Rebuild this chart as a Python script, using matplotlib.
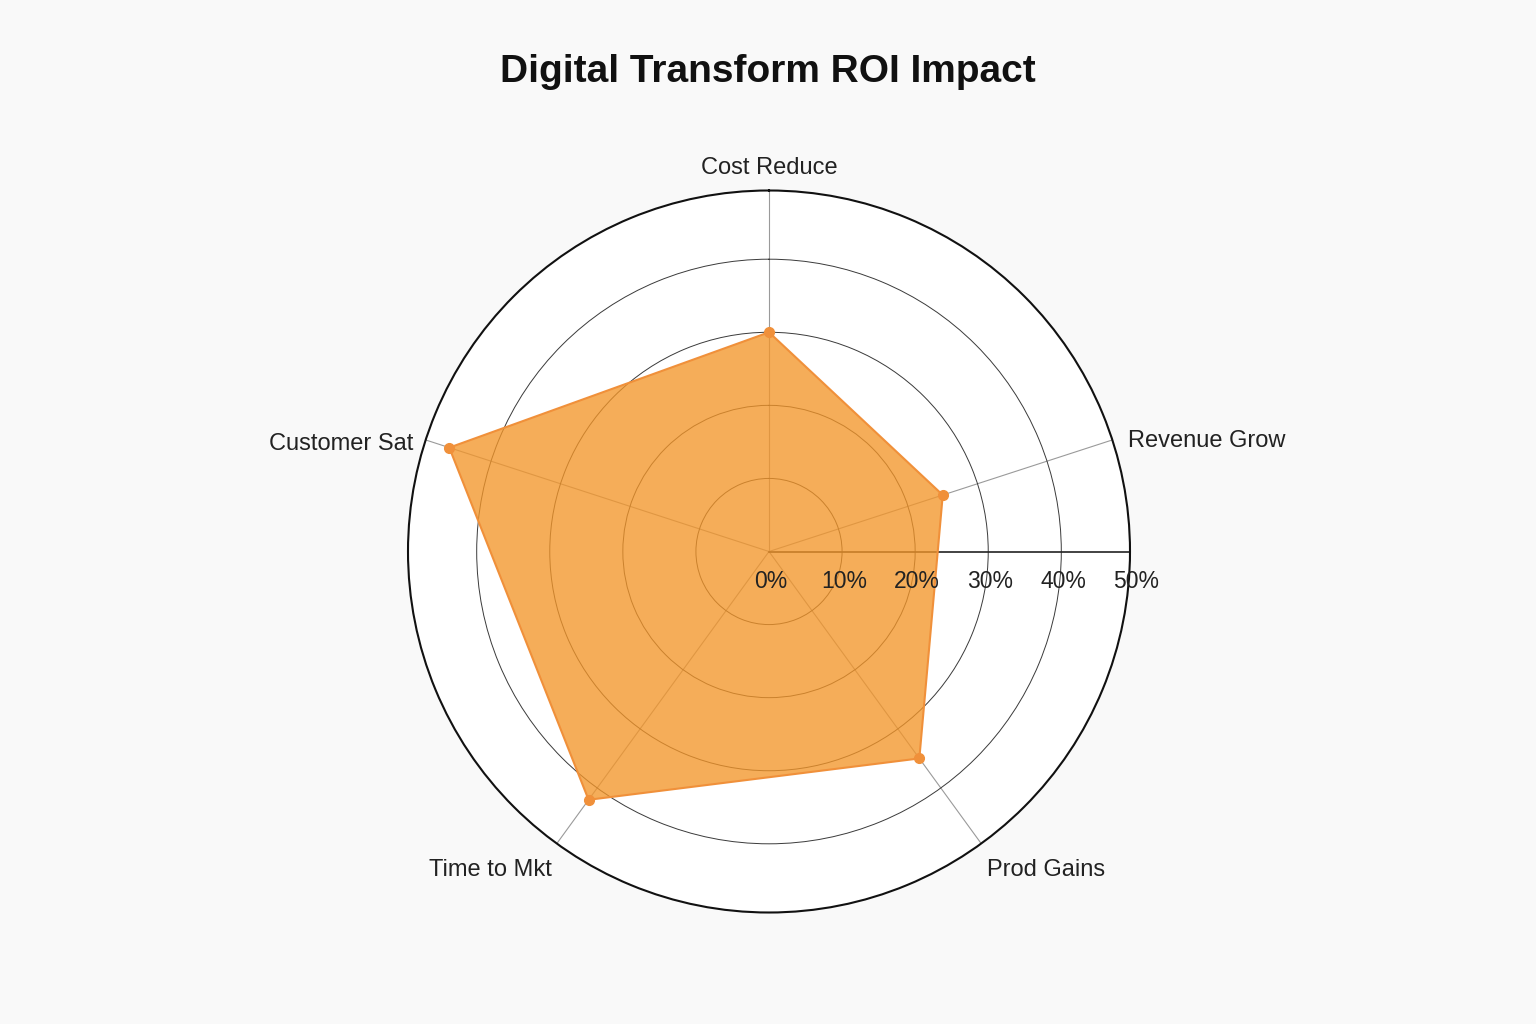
import numpy as np
import matplotlib
matplotlib.use("Agg")
import matplotlib.pyplot as plt

# data
categories = ["Cost Reduce", "Revenue Grow", "Prod Gains", "Time to Mkt", "Customer Sat"]
values = [30, 25, 35, 42, 46]
r_ticks = [0, 10, 20, 30, 40, 50]
r_tick_labels = ["0%", "10%", "20%", "30%", "40%", "50%"]

C_BG = "#f9f9f9"
C_LINE = "#F0903A"
C_FILL = "#F3962A"

plt.rcParams["font.family"] = ["Liberation Sans", "DejaVu Sans"]

fig = plt.figure(figsize=(15.36, 10.24), dpi=100, facecolor=C_BG)
cx, cy = 769 / 1536, 1 - 551.5 / 1024
w, h = 722 / 1536, 722 / 1024
ax = fig.add_axes([cx - w / 2, cy - h / 2, w, h], polar=True)
ax.set_facecolor("white")
ax.set_theta_offset(np.pi / 2)
ax.set_theta_direction(-1)
ax.set_ylim(0, 49.4)

n = len(categories)
angles = np.linspace(0, 2 * np.pi, n, endpoint=False)

# grid
ax.set_xticks(angles)
ax.set_xticklabels([])
ax.set_yticks(r_ticks[1:-1])
ax.set_yticklabels([])
ax.xaxis.grid(True, color="#9a9a9a", lw=0.8)
ax.yaxis.grid(True, color="#3a3a3a", lw=0.7)
ax.spines["polar"].set_color("#111111")
ax.spines["polar"].set_linewidth(1.5)
ax.tick_params(length=0)

# radial axis line pointing right
ax.plot([np.pi / 2, np.pi / 2], [0, 49.4], color="#222222", lw=1.2, zorder=2)

# data polygon
th = np.append(angles, angles[0])
vv = np.append(values, values[0])
ax.fill(th, vv, color=C_FILL, alpha=0.78, zorder=3, lw=0)
ax.plot(th, vv, color=C_LINE, lw=1.5, zorder=4)
ax.plot(angles, values, "o", color=C_LINE, ms=7, zorder=5)

# radial tick labels
for r, lab in zip(r_ticks, r_tick_labels):
    ax.annotate(lab, xy=(np.pi / 2, r), xytext=(2, -30), textcoords="offset pixels",
                ha="center", va="center", fontsize=16.5, color="#222222", zorder=6,
                annotation_clip=False)

# category labels
label_pos = [
    ((0, 11), "center", "bottom"),
    ((16, -1), "left", "center"),
    ((6, -26), "left", "center"),
    ((-5, -26), "right", "center"),
    ((-12, -4), "right", "center"),
]
for ang, cat, (off, ha, va) in zip(angles, categories, label_pos):
    ax.annotate(cat, xy=(ang, 49.4), xytext=off, textcoords="offset pixels",
                ha=ha, va=va, fontsize=17, color="#222222", annotation_clip=False)

fig.text(0.5, 1 - 72 / 1024, "Digital Transform ROI Impact", ha="center", va="center",
         fontsize=28, fontweight="bold", color="#111111")

fig.savefig("out.png", dpi=100, facecolor=C_BG)
